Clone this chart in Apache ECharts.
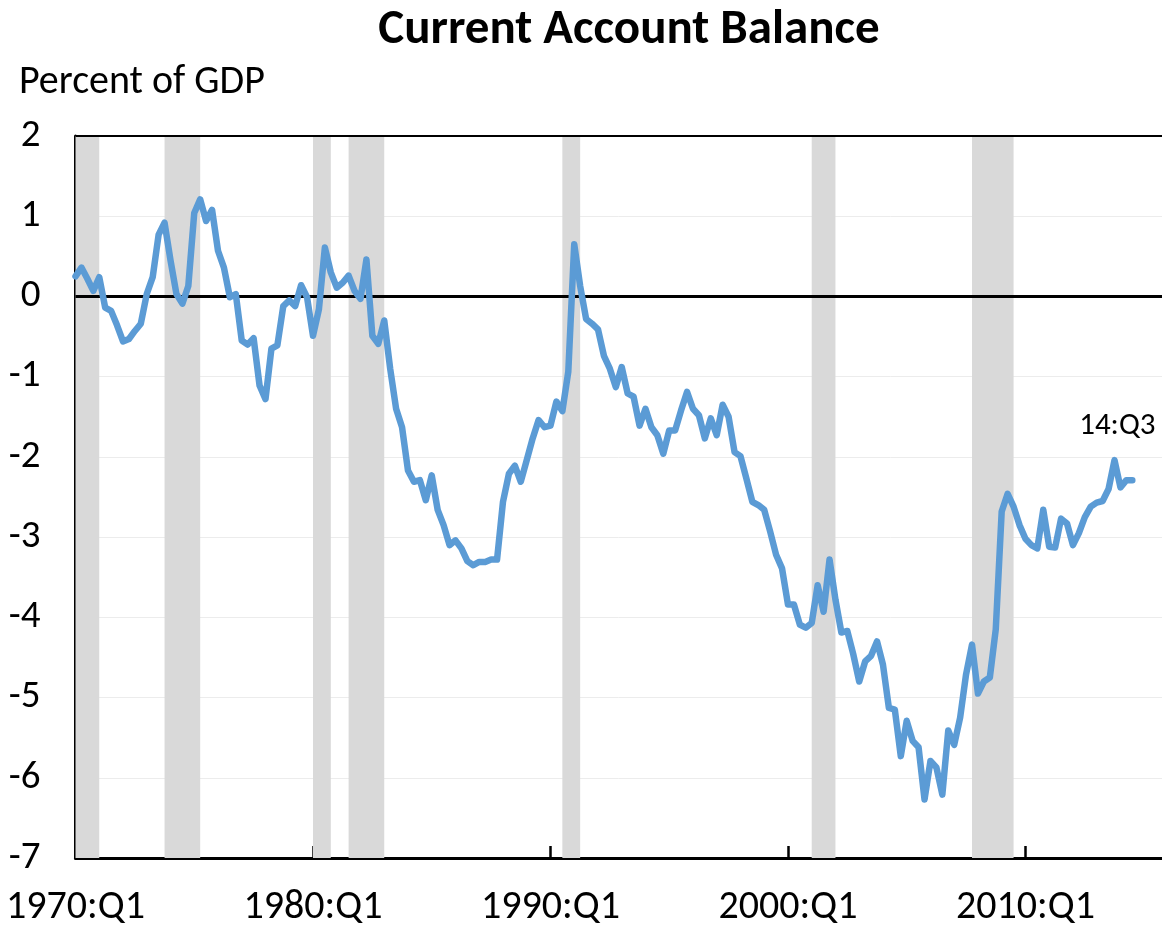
<!DOCTYPE html>
<html>
<head>
<meta charset="utf-8">
<script src="https://cdn.jsdelivr.net/npm/echarts@6/dist/echarts.min.js"></script>
<style>
html,body{margin:0;padding:0;background:#fff;}
#chart{width:1162px;height:928px;}
</style>
</head>
<body>
<div id="chart"></div>
<script>
// ---- data ----
const firstYear = 1970;
const lastAxisYear = 2015;
const quarters = [];
for (let y = firstYear; y <= lastAxisYear; y++) {
  for (let q = 1; q <= 4; q++) quarters.push(y + ':Q' + q);
}

// Current account balance, percent of GDP (quarterly)
const ca1970s = [0.25, 0.36, 0.22, 0.07, 0.24, -0.14, -0.18, -0.36, -0.56, -0.53,
  -0.43, -0.34, 0.03, 0.24, 0.77, 0.92, 0.45, 0.03, -0.09, 0.13,
  1.04, 1.21, 0.94, 1.08, 0.57, 0.36, -0.01, 0.03, -0.55, -0.60,
  -0.52, -1.11, -1.28, -0.65, -0.61, -0.12, -0.05, -0.12, 0.14, -0.01];
const ca1980s = [-0.49, -0.16, 0.61, 0.30, 0.11, 0.17, 0.26, 0.07, -0.03, 0.46,
  -0.49, -0.59, -0.30, -0.90, -1.40, -1.63, -2.17, -2.31, -2.29, -2.54,
  -2.23, -2.66, -2.85, -3.10, -3.04, -3.14, -3.30, -3.35, -3.31, -3.31,
  -3.28, -3.28, -2.56, -2.21, -2.11, -2.31, -2.04, -1.77, -1.54, -1.63];
const ca1990s = [-1.61, -1.31, -1.43, -0.94, 0.65, 0.13, -0.28, -0.34, -0.41, -0.74,
  -0.90, -1.13, -0.88, -1.21, -1.25, -1.61, -1.40, -1.63, -1.73, -1.96,
  -1.67, -1.67, -1.42, -1.19, -1.40, -1.48, -1.77, -1.52, -1.73, -1.35,
  -1.50, -1.94, -1.99, -2.27, -2.56, -2.60, -2.66, -2.93, -3.22, -3.39];
const ca2000s = [-3.84, -3.84, -4.09, -4.13, -4.07, -3.60, -3.93, -3.28, -3.78, -4.19,
  -4.17, -4.46, -4.80, -4.55, -4.48, -4.30, -4.59, -5.13, -5.15, -5.73,
  -5.29, -5.54, -5.62, -6.27, -5.79, -5.87, -6.21, -5.41, -5.59, -5.25,
  -4.71, -4.34, -4.95, -4.80, -4.75, -4.15, -2.68, -2.46, -2.62, -2.85];
const ca2010s = [-3.02, -3.10, -3.14, -2.66, -3.12, -3.13, -2.77, -2.83, -3.10, -2.95,
  -2.75, -2.62, -2.57, -2.55, -2.40, -2.04, -2.38, -2.29, -2.29];
const balance = [].concat(ca1970s, ca1980s, ca1990s, ca2000s, ca2010s);

// Recession shading (start quarter, end quarter)
const recessions = [
  ['1970:Q1', '1971:Q1'],
  ['1973:Q4', '1975:Q2'],
  ['1980:Q1', '1980:Q4'],
  ['1981:Q3', '1983:Q1'],
  ['1990:Q3', '1991:Q2'],
  ['2001:Q1', '2002:Q1'],
  ['2007:Q4', '2009:Q3']
];

const yTicks = [2, 1, 0, -1, -2, -3, -4, -5, -6, -7];
const lastLabel = '14:Q3';

// ---- chart ----
const FONT = 'Carlito, Lato, sans-serif';
const chart = echarts.init(document.getElementById('chart'), null, {renderer: 'canvas'});
const lastIdx = balance.length - 1;

chart.setOption({
  animation: false,
  backgroundColor: '#ffffff',
  title: [
    {
      text: 'Current Account Balance',
      left: 624, top: 1, textAlign: 'center',
      textStyle: {fontFamily: FONT, fontWeight: 'bold', fontSize: 49, color: '#000'}
    },
    {
      text: 'Percent of GDP',
      left: 14, top: 58,
      textStyle: {fontFamily: FONT, fontWeight: 'normal', fontSize: 40, color: '#000'}
    }
  ],
  grid: {left: 75.5, right: 0, top: 136, bottom: 67, containLabel: false},
  xAxis: {
    type: 'category',
    data: quarters,
    boundaryGap: false,
    axisLine: {onZero: false, lineStyle: {color: '#000', width: 3}},
    axisTick: {show: true, inside: true, length: 12, interval: 39, lineStyle: {color: '#000', width: 2.5}},
    axisLabel: {interval: 39, fontFamily: FONT, fontSize: 40, color: '#000', margin: 30},
    splitLine: {show: false}
  },
  yAxis: {
    type: 'value',
    min: yTicks[yTicks.length - 1], max: yTicks[0], interval: 1,
    axisLine: {show: true, lineStyle: {color: '#000', width: 3}},
    axisTick: {show: true, inside: true, length: 12, lineStyle: {color: '#000', width: 2.5}},
    axisLabel: {fontFamily: FONT, fontSize: 39, color: '#000', margin: 35},
    splitLine: {show: true, lineStyle: {color: '#ececec', width: 1}}
  },
  series: [
    {
      type: 'line',
      data: [],
      silent: true,
      z: 1,
      markArea: {
        silent: true,
        itemStyle: {color: '#d9d9d9'},
        data: recessions.map(r => [{xAxis: r[0]}, {xAxis: r[1]}])
      },
      markLine: {
        silent: true,
        symbol: ['none', 'none'],
        label: {show: false},
        data: [
          {yAxis: 0, lineStyle: {color: '#000', width: 3, type: 'solid'}},
          {yAxis: 2, lineStyle: {color: '#000', width: 2, type: 'solid'}}
        ]
      }
    },
    {
      type: 'line',
      data: balance,
      z: 5,
      showSymbol: false,
      symbol: 'none',
      lineStyle: {color: '#5b9bd5', width: 6.5, cap: 'round', join: 'round'},
      markPoint: {
        silent: true,
        symbol: 'circle',
        symbolSize: 0,
        data: [{coord: [lastIdx, balance[lastIdx]], value: lastLabel}],
        label: {
          show: true, formatter: lastLabel, position: 'inside',
          offset: [-15, -54],
          fontFamily: FONT, fontSize: 31, color: '#000'
        }
      }
    }
  ]
});
</script>
</body>
</html>
